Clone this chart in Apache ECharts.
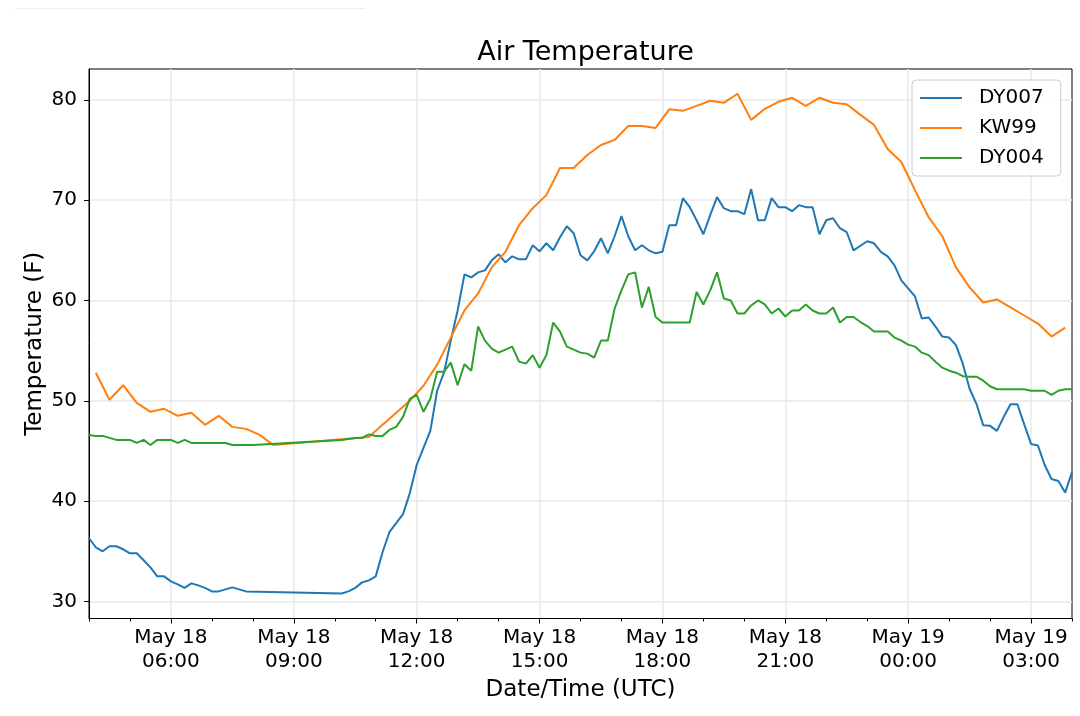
<!DOCTYPE html>
<html><head><meta charset="utf-8">
<script src="https://cdn.jsdelivr.net/npm/echarts@6/dist/echarts.min.js"></script>
<style>html,body{margin:0;padding:0;background:#fff}#c{width:1080px;height:716px}</style>
</head><body><div id="c"></div>
<script>
// Time axis: hours since May 18 00:00 UTC. Stations DY007/DY004 report every 10 min from 04:00,
// KW99 every 20 min from 04:10. null = missing report (line bridges the gap).
const seriesNames = ['DY007', 'KW99', 'DY004'];
const seriesColors = ['#1f77b4', '#ff7f0e', '#2ca02c'];
const startHour = 4;
const endHour = 28;
const dy007 = [
  36.3, 35.4, 35.0, 35.5, 35.5, 35.2, 34.8, 34.8, 34.1, 33.4,
  32.5, 32.5, 32.0, 31.7, 31.35, 31.8, 31.6, 31.35, 31.0, 31.0,
  31.2, 31.4, 31.2, 31.0, null, null, null, null, null, null,
  null, null, null, null, null, null, null, 30.8, 31.0, 31.35,
  31.9, 32.1, 32.5, 34.9, 36.9, 37.8, 38.7, 40.8, 43.6, 45.3,
  47.0, 51.0, 52.8, 56.0, 59.0, 62.6, 62.3, 62.8, 63.0, 64.0,
  64.6, 63.8, 64.4, 64.1, 64.1, 65.5, 64.9, 65.7, 65.0, 66.3,
  67.4, 66.7, 64.5, 64.0, 64.9, 66.2, 64.7, 66.4, 68.4, 66.4,
  65.0, 65.5, 65.0, 64.7, 64.85, 67.5, 67.5, 70.2, 69.3, 68.0,
  66.6, 68.5, 70.3, 69.2, 68.9, 68.9, 68.6, 71.1, 68.0, 68.0,
  70.2, 69.3, 69.3, 68.9, 69.5, 69.3, 69.3, 66.6, 68.0, 68.2,
  67.2, 66.8, 65.0, 65.45, 65.9, 65.7, 64.85, 64.4, 63.5, 62.0,
  61.2, 60.4, 58.2, 58.3, 57.4, 56.4, 56.3, 55.55, 53.7, 51.2,
  49.7, 47.55, 47.5, 47.0, 48.4, 49.65, 49.65, 47.65, 45.7, 45.55,
  43.6, 42.2, 42.0, 40.85, 42.9
];
const kw99 = [
  52.8, 50.1, 51.55, 49.8, 48.9, 49.2, 48.5, 48.8, 47.6, 48.5,
  47.4, 47.2, 46.6, 45.6, null, null, null, null, null, null,
  46.4, 47.6, 48.8, 50.0, 51.5, 53.6, 56.3, 59.0, 60.7, 63.3,
  64.85, 67.5, 69.2, 70.5, 73.2, 73.2, 74.5, 75.5, 76.0, 77.4,
  77.4, 77.2, 79.05, 78.9, 79.4, 79.9, 79.7, 80.6, 78.0, 79.1,
  79.8, 80.2, 79.4, 80.2, 79.7, 79.55, 78.5, 77.5, 75.1, 73.8,
  71.0, 68.3, 66.4, 63.3, 61.3, 59.8, 60.1, 59.3, 58.5, 57.7,
  56.4, 57.3
];
const dy004 = [
  46.6, 46.5, 46.5, 46.3, 46.1, 46.1, 46.1, 45.8, 46.1, 45.6,
  46.1, 46.1, 46.1, 45.8, 46.1, 45.8, 45.8, 45.8, 45.8, 45.8,
  45.8, 45.6, 45.6, 45.6, 45.6, null, null, null, null, null,
  null, null, null, null, null, null, null, 46.1, 46.2, 46.3,
  46.3, 46.65, 46.5, 46.5, 47.1, 47.4, 48.4, 50.2, 50.6, 48.9,
  50.2, 52.9, 52.9, 53.8, 51.55, 53.65, 53.0, 57.4, 56.0, 55.2,
  54.8, 55.1, 55.4, 53.9, 53.7, 54.55, 53.3, 54.55, 57.8, 56.9,
  55.4, 55.1, 54.8, 54.7, 54.3, 56.0, 56.0, 59.2, 61.0, 62.6,
  62.8, 59.3, 61.35, 58.35, 57.8, 57.8, 57.8, 57.8, 57.8, 60.85,
  59.6, 61.0, 62.8, 60.2, 60.0, 58.7, 58.7, 59.5, 60.0, 59.6,
  58.7, 59.2, 58.4, 59.0, 59.0, 59.6, 59.0, 58.7, 58.7, 59.3,
  57.8, 58.35, 58.35, 57.85, 57.45, 56.9, 56.9, 56.9, 56.3, 56.0,
  55.6, 55.4, 54.8, 54.55, 53.9, 53.3, 53.0, 52.8, 52.45, 52.4,
  52.4, 52.0, 51.45, 51.15, 51.15, 51.15, 51.15, 51.15, 51.0, 51.0,
  51.0, 50.6, 51.0, 51.15, 51.15
];
const xMajorTicks = [6, 9, 12, 15, 18, 21, 24, 27];
const yTicks = [30, 40, 50, 60, 70, 80];
const yMin = 28.3, yMax = 83.07;

function toPairs(values, firstHour, stepHours) {
  const out = [];
  values.forEach((v, i) => { if (v !== null) out.push([firstHour + i * stepHours, v]); });
  return out;
}
function pad(n) { return (n < 10 ? '0' : '') + n; }
function timeLabel(h) {
  const day = h >= 24 ? 'May 19' : 'May 18';
  return day + '\n' + pad(Math.round(h) % 24) + ':00';
}
const FONT = 'DejaVu Sans';
const minorTicks = [];
for (let h = startHour; h <= endHour; h++) minorTicks.push(h);

const chart = echarts.init(document.getElementById('c'), null, {renderer: 'canvas'});
chart.setOption({
  animation: false,
  backgroundColor: '#ffffff',
  textStyle: {fontFamily: FONT},
  title: {
    text: 'Air Temperature', left: 580.5, top: 34, textAlign: 'center',
    textStyle: {fontFamily: FONT, fontSize: 27, fontWeight: 'normal', color: '#000'}
  },
  graphic: [{
    type: 'line', shape: {x1: 15, y1: 8.5, x2: 365, y2: 8.5},
    style: {stroke: '#eeeeee', lineWidth: 1}
  }],
  legend: {
    data: seriesNames, orient: 'vertical', left: 912, top: 80,
    padding: [8, 17, 8, 8], itemGap: 10, itemWidth: 42, itemHeight: 2, icon: 'rect',
    backgroundColor: 'rgba(255,255,255,0.8)', borderColor: '#cccccc', borderWidth: 1, borderRadius: 4,
    textStyle: {fontFamily: FONT, fontSize: 20, lineHeight: 20, color: '#000', padding: [0, 0, 0, 12]}
  },
  grid: {left: 89, right: 8, top: 69, bottom: 97.5, show: true, borderColor: '#000', borderWidth: 1},
  xAxis: [{
    type: 'value', min: startHour, max: endHour, interval: 1,
    name: 'Date/Time (UTC)', nameLocation: 'middle', nameGap: 59,
    nameTextStyle: {fontFamily: FONT, fontSize: 23, color: '#000'},
    axisLine: {show: true, onZero: false, lineStyle: {color: '#000', width: 1}},
    axisTick: {show: true, customValues: xMajorTicks, length: 5, lineStyle: {color: '#000'}},
    axisLabel: {customValues: xMajorTicks, formatter: timeLabel, fontFamily: FONT, fontSize: 20,
      lineHeight: 24, color: '#000', margin: 7},
    splitLine: {show: true, lineStyle: {color: '#e8e8e8', width: 1.5}}
  }, {
    type: 'value', min: startHour, max: endHour, interval: 1, position: 'bottom', gridIndex: 0,
    axisLine: {show: false, onZero: false},
    axisTick: {show: true, customValues: minorTicks, length: 3, lineStyle: {color: '#000'}},
    axisLabel: {show: false}, splitLine: {show: false}
  }],
  yAxis: {
    type: 'value', min: yMin, max: yMax,
    name: 'Temperature (F)', nameLocation: 'middle', nameGap: 42, nameMoveOverlap: false,
    nameTextStyle: {fontFamily: FONT, fontSize: 23, color: '#000'},
    axisLine: {show: true, lineStyle: {color: '#000', width: 1}},
    axisTick: {show: true, customValues: yTicks, length: 5, lineStyle: {color: '#000'}},
    axisLabel: {customValues: yTicks, fontFamily: FONT, fontSize: 20, color: '#000', margin: 12},
    splitLine: {show: true, lineStyle: {color: '#e8e8e8', width: 1.5}}
  },
  series: [
    {name: seriesNames[0], type: 'line', data: toPairs(dy007, startHour, 1 / 6),
      showSymbol: false, lineStyle: {width: 2, color: seriesColors[0]}, itemStyle: {color: seriesColors[0]}},
    {name: seriesNames[1], type: 'line', data: toPairs(kw99, startHour + 1 / 6, 1 / 3),
      showSymbol: false, lineStyle: {width: 2, color: seriesColors[1]}, itemStyle: {color: seriesColors[1]}},
    {name: seriesNames[2], type: 'line', data: toPairs(dy004, startHour, 1 / 6),
      showSymbol: false, lineStyle: {width: 2, color: seriesColors[2]}, itemStyle: {color: seriesColors[2]}}
  ]
});
</script></body></html>
